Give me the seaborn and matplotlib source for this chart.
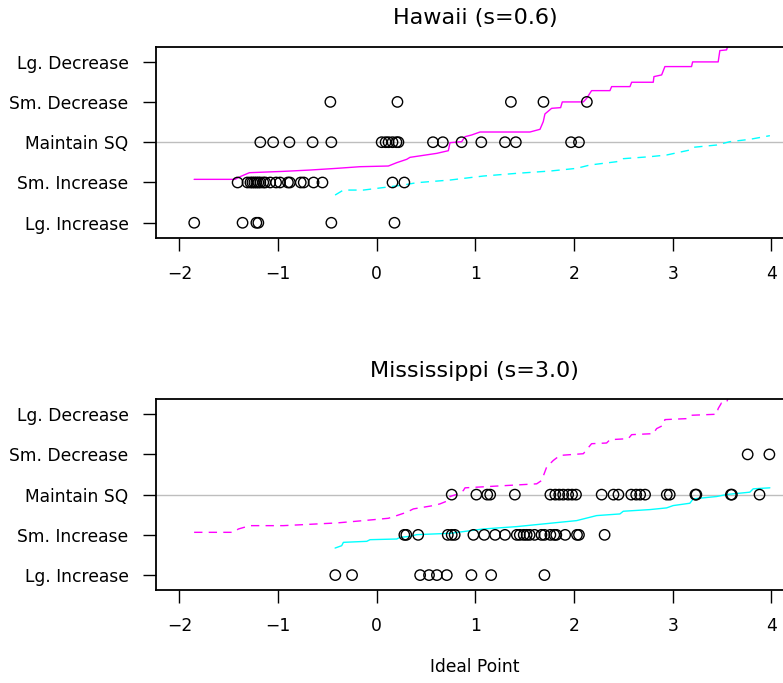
import pandas as pd
import seaborn as sns
import matplotlib.pyplot as plt

# 类别 (y 轴 1..5)
levels = ["Lg. Increase", "Sm. Increase", "Maintain SQ", "Sm. Decrease", "Lg. Decrease"]
x_ticks = [-2, -1, 0, 1, 2, 3, 4]

# Hawaii (s=0.6): 各类别的 ideal point
hi_lg_inc = [-1.85, -1.36, -1.22, -1.20, -0.46, 0.18]
hi_sm_inc = [-1.41, -1.31, -1.28, -1.26, -1.24, -1.22, -1.20, -1.18, -1.15, -1.13, -1.08,
             -1.02, -0.98, -0.90, -0.88, -0.77, -0.74, -0.64, -0.55, 0.16, 0.28]
hi_maintain = [-1.18, -1.05, -0.885, -0.65, -0.46, 0.05, 0.09, 0.12, 0.16, 0.20, 0.22,
               0.57, 0.67, 0.86, 1.06, 1.30, 1.41, 1.97, 2.05]
hi_sm_dec = [-0.47, 0.21, 1.36, 1.69, 2.13]
hi_lg_dec = []

# Hawaii 曲线
hi_mag_x = [-1.851, -1.436, -1.385, -1.291, -0.946, -0.676, -0.405, -0.169, 0.118, 0.203,
            0.304, 0.337, 0.608, 0.726, 0.743, 0.861, 0.895, 0.962, 1.047, 1.553, 1.655,
            1.688, 1.705, 1.773, 1.864, 1.881, 2.094, 2.128, 2.178, 2.364, 2.381, 2.567,
            2.584, 2.803, 2.810, 2.888, 2.921, 3.191, 3.202, 3.461, 3.478, 3.546, 3.562]
hi_mag_y = [2.078, 2.078, 2.144, 2.243, 2.276, 2.309, 2.351, 2.392, 2.409, 2.492,
            2.575, 2.624, 2.723, 2.789, 2.988, 3.013, 3.137, 3.179, 3.253, 3.253, 3.320,
            3.510, 3.701, 3.841, 3.858, 3.999, 4.000, 4.090, 4.280, 4.280, 4.380, 4.380,
            4.488, 4.488, 4.628, 4.670, 4.877, 4.877, 4.993, 4.993, 5.274, 5.291, 5.415]
hi_cyan_x = [-0.422, -0.338, -0.135, 0.135, 0.270, 0.405, 0.743, 1.080, 1.418, 1.756, 2.026,
             2.161, 2.432, 2.499, 2.769, 2.938, 3.174, 3.208, 3.445, 3.580, 3.782, 3.985]
hi_cyan_y = [1.688, 1.812, 1.812, 1.895, 1.937, 1.995, 2.061, 2.160, 2.227, 2.284, 2.351,
             2.434, 2.516, 2.591, 2.640, 2.682, 2.806, 2.873, 2.930, 3.013, 3.071, 3.162]

# Mississippi (s=3.0)
ms_lg_inc = [-0.42, -0.25, 0.44, 0.53, 0.61, 0.71, 0.96, 1.16, 1.70]
ms_sm_inc = [0.28, 0.30, 0.42, 0.72, 0.76, 0.79, 0.98, 1.09, 1.20, 1.30, 1.42, 1.45, 1.49,
             1.52, 1.55, 1.60, 1.67, 1.70, 1.76, 1.80, 1.82, 1.91, 2.03, 2.05, 2.31]
ms_maintain = [0.76, 1.01, 1.12, 1.15, 1.40, 1.76, 1.81, 1.85, 1.89, 1.94, 1.98, 2.02, 2.28,
               2.40, 2.45, 2.58, 2.63, 2.67, 2.72, 2.94, 2.97, 3.23, 3.24, 3.59, 3.60, 3.88]
ms_sm_dec = [3.76, 3.98]
ms_lg_dec = []

ms_mag_x = [-1.851, -1.453, -1.402, -1.284, -0.946, -0.608, -0.405, -0.135, 0.118, 0.203,
            0.304, 0.371, 0.574, 0.641, 0.726, 0.743, 0.827, 0.878, 0.895, 1.013, 1.621,
            1.672, 1.722, 1.790, 1.857, 2.094, 2.178, 2.330, 2.364, 2.550, 2.584, 2.803,
            2.837, 2.904, 2.921, 3.141, 3.191, 3.445, 3.461, 3.495, 3.546, 3.562]
ms_mag_y = [2.063, 2.063, 2.146, 2.229, 2.229, 2.271, 2.296, 2.354, 2.412, 2.479,
            2.562, 2.645, 2.728, 2.770, 2.853, 2.953, 3.019, 3.102, 3.169, 3.185, 3.268,
            3.352, 3.684, 3.850, 3.975, 4.017, 4.266, 4.283, 4.366, 4.391, 4.491, 4.516,
            4.641, 4.723, 4.865, 4.889, 4.973, 4.998, 5.139, 5.280, 5.289, 5.400]
ms_cyan_x = [-0.422, -0.355, -0.338, -0.101, -0.068, 0.203, 0.236, 0.337, 0.405, 0.574,
             0.743, 1.080, 1.418, 1.756, 2.026, 2.094, 2.229, 2.465, 2.499, 2.769, 2.938,
             3.005, 3.174, 3.208, 3.445, 3.546, 3.782, 3.816, 3.985]
ms_cyan_y = [1.672, 1.731, 1.814, 1.839, 1.880, 1.897, 1.938, 1.963, 2.005, 2.022,
             2.038, 2.146, 2.205, 2.288, 2.354, 2.396, 2.479, 2.520, 2.587, 2.628, 2.670,
             2.728, 2.786, 2.895, 2.953, 3.003, 3.061, 3.144, 3.169]

sns.set_style("ticks")
plt.rcParams["font.family"] = ["DejaVu Sans"]
plt.rcParams["text.color"] = "black"
plt.rcParams["axes.labelcolor"] = "black"
plt.rcParams["xtick.color"] = "black"
plt.rcParams["ytick.color"] = "black"
plt.rcParams["axes.edgecolor"] = "black"


def points_frame(groups):
    """把各类别的点合成一个 DataFrame"""
    rows = []
    for level, xs in enumerate(groups, start=1):
        for x in xs:
            rows.append({"ideal": x, "level": level})
    return pd.DataFrame(rows, columns=["ideal", "level"])


def draw_panel(ax, title, groups, mag, cyan, mag_dashed):
    ax.axhline(3, color="#BEBEBE", lw=1.0, zorder=1)
    dash = (6, 4.5)
    sns.lineplot(x=mag[0], y=mag[1], ax=ax, color="#FF00FF", lw=1.0, sort=False,
                 estimator=None, zorder=2)
    sns.lineplot(x=cyan[0], y=cyan[1], ax=ax, color="#00FFFF", lw=1.0, sort=False,
                 estimator=None, zorder=2)
    # 虚线
    if mag_dashed:
        ax.lines[-2].set_dashes(dash)
    else:
        ax.lines[-1].set_dashes(dash)

    df = points_frame(groups)
    sns.scatterplot(data=df, x="ideal", y="level", ax=ax, marker="o", s=56,
                    facecolor="none", edgecolor="black", linewidth=1.0, zorder=3)

    ax.set_xlim(-2.24, 4.23)
    ax.set_ylim(0.63, 5.37)
    ax.set_xticks(x_ticks)
    ax.set_xticklabels(["\u22122", "\u22121", "0", "1", "2", "3", "4"])
    ax.set_yticks(range(1, 6))
    ax.set_yticklabels(levels)
    ax.tick_params(axis="both", length=9.7, width=1.0, pad=10, labelsize=12.3,
                   color="black", labelcolor="black")
    for sp in ax.spines.values():
        sp.set_linewidth(1.3)
        sp.set_color("black")
    ax.set_title(title, fontsize=16, pad=16, color="black")
    ax.set_xlabel("")
    ax.set_ylabel("")


fig = plt.figure(figsize=(7.83, 6.83), dpi=100)
ax1 = fig.add_axes([0.1989, 0.6520, 0.8152, 0.2796])
ax2 = fig.add_axes([0.1989, 0.1362, 0.8152, 0.2792])

draw_panel(ax1, "Hawaii (s=0.6)",
           [hi_lg_inc, hi_sm_inc, hi_maintain, hi_sm_dec, hi_lg_dec],
           (hi_mag_x, hi_mag_y), (hi_cyan_x, hi_cyan_y), mag_dashed=False)
draw_panel(ax2, "Mississippi (s=3.0)",
           [ms_lg_inc, ms_sm_inc, ms_maintain, ms_sm_dec, ms_lg_dec],
           (ms_mag_x, ms_mag_y), (ms_cyan_x, ms_cyan_y), mag_dashed=True)
ax2.set_xlabel("Ideal Point", fontsize=12.3, labelpad=16, color="black")

fig.savefig("out.png", dpi=100)
